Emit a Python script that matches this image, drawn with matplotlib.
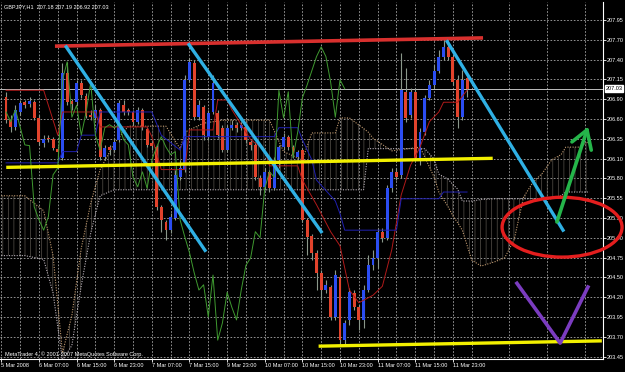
import matplotlib
matplotlib.use('Agg')
import matplotlib.pyplot as plt
import numpy as np
from matplotlib.patches import Ellipse

plt.rcParams['font.family'] = ['Liberation Sans', 'DejaVu Sans']
plt.rcParams['hatch.linewidth'] = 0.5

# ---------------- data ----------------
symbol_title = "GBPJPY,H1  207.18 207.19 206.92 207.03"
footer = "MetaTrader 4, \u00a9 2001-2007 MetaQuotes Software Corp."
current_price = 207.03

opens = [206.92, 206.61, 206.52, 206.72, 206.85, 206.83, 206.85, 206.64, 206.31, 206.37,
         206.36, 206.23, 206.11, 207.24, 206.87, 206.85, 207.11, 206.93, 206.68, 206.64,
         206.75, 206.12, 206.25, 206.21, 206.35, 206.81, 206.75, 206.72, 206.59, 206.75,
         206.49, 206.31, 206.25, 205.45, 205.25, 205.14, 205.30, 205.85, 205.95, 207.15,
         207.38, 206.65, 206.79, 206.39, 206.72, 206.71, 206.51, 206.21, 206.51, 206.55,
         206.51, 206.52, 206.32, 206.28, 205.84, 205.72, 205.92, 205.70, 206.08, 206.25,
         206.39, 206.25, 206.12, 206.21, 205.28, 205.06, 204.84, 204.57, 204.34, 204.38,
         203.98, 204.51, 203.67, 203.94, 204.30, 204.11, 203.94, 204.34, 204.67, 204.77,
         205.12, 205.04, 205.70, 205.92, 205.88, 206.99, 206.68, 206.99, 206.11, 206.45,
         206.91, 207.08, 207.27, 207.46, 207.59, 207.46, 207.15, 206.65, 207.18]
closes = [206.61, 206.52, 206.75, 206.84, 206.81, 206.87, 206.64, 206.32, 206.36, 206.36,
          206.24, 206.19, 207.24, 206.85, 206.83, 207.11, 206.95, 206.67, 206.65, 206.75,
          206.12, 206.24, 206.21, 206.32, 206.84, 206.72, 206.72, 206.59, 206.75, 206.52,
          206.28, 206.27, 205.45, 205.28, 205.14, 205.32, 205.88, 205.97, 207.15, 207.39,
          206.65, 206.81, 206.41, 206.71, 207.11, 206.41, 206.21, 206.51, 206.55, 206.51,
          206.55, 206.35, 206.28, 205.85, 205.72, 205.92, 205.70, 206.08, 206.25, 206.39,
          206.25, 206.15, 206.19, 205.28, 205.05, 204.84, 204.57, 204.34, 204.41, 203.98,
          204.54, 203.67, 203.90, 204.31, 204.11, 203.94, 204.34, 204.67, 204.77, 205.12,
          205.04, 205.70, 205.92, 205.85, 207.01, 206.64, 206.99, 206.11, 206.45, 206.91,
          207.08, 207.27, 207.46, 207.59, 207.46, 207.12, 206.65, 207.15, 207.03]
highs = [206.99, 206.68, 206.81, 206.88, 206.88, 206.92, 206.88, 206.68, 206.41, 206.41,
         206.39, 206.27, 207.38, 207.39, 206.89, 207.15, 207.15, 206.97, 206.75, 206.81,
         206.77, 206.28, 206.28, 206.37, 206.88, 206.88, 206.77, 206.75, 206.79, 206.77,
         206.52, 206.35, 206.28, 205.48, 205.28, 205.37, 205.95, 206.08, 207.21, 207.44,
         207.42, 206.88, 206.81, 206.75, 207.21, 206.75, 206.55, 206.55, 206.61, 206.59,
         206.59, 206.55, 206.35, 206.32, 205.88, 205.97, 205.95, 206.12, 206.28, 206.44,
         206.41, 206.28, 206.21, 206.24, 205.30, 205.09, 204.88, 204.61, 204.47, 204.41,
         204.61, 204.54, 203.94, 204.37, 204.34, 204.14, 204.41, 204.81, 204.88, 205.17,
         205.17, 205.74, 205.97, 205.97, 207.51, 207.31, 207.04, 207.04, 206.51, 206.95,
         207.15, 207.35, 207.55, 207.68, 207.68, 207.48, 207.21, 207.28, 207.19]
lows = [206.57, 206.45, 206.48, 206.68, 206.77, 206.79, 206.61, 206.28, 206.25, 206.32,
        206.21, 206.12, 206.08, 206.81, 206.75, 206.81, 206.91, 206.64, 206.61, 206.61,
        206.08, 206.08, 206.15, 206.19, 206.32, 206.68, 206.68, 206.55, 206.56, 206.48,
        206.25, 206.21, 205.41, 205.12, 205.01, 205.10, 205.28, 205.81, 205.92, 207.12,
        206.61, 206.61, 206.35, 206.35, 206.69, 206.37, 206.19, 206.19, 206.48, 206.45,
        206.48, 206.31, 206.21, 205.81, 205.61, 205.68, 205.65, 205.68, 205.97, 206.21,
        206.21, 206.11, 206.08, 205.25, 204.81, 204.74, 204.34, 204.21, 204.30, 203.94,
        203.94, 203.61, 203.61, 203.87, 204.07, 203.81, 203.83, 204.31, 204.61, 204.63,
        204.98, 205.01, 205.65, 205.81, 205.84, 206.59, 206.64, 206.08, 206.01, 206.41,
        206.88, 207.04, 207.24, 207.42, 207.42, 207.08, 206.51, 206.61, 206.92]

# Ichimoku lines (bar index, price)
tenkan_bars = [0, 8, 11, 12, 19, 20, 30, 31, 33, 38, 39, 44, 45, 47, 48, 52, 55, 56, 62, 63,
               66, 69, 71, 73, 75, 78, 80, 82, 84, 86, 88, 90, 92, 93, 96, 98]
tenkan_vals = [207.01, 207.01, 206.41, 206.72, 206.72, 206.52, 206.52, 206.39, 205.95, 205.95,
               206.48, 206.48, 206.88, 206.88, 206.75, 206.35, 206.21, 206.00, 206.00, 205.81,
               205.48, 205.12, 204.93, 204.34, 204.17, 204.27, 204.39, 204.88, 205.61, 206.01,
               206.25, 206.59, 206.72, 206.85, 206.85, 207.01]
kijun_bars = [0, 11, 12, 15, 16, 19, 20, 31, 33, 37, 38, 57, 58, 62, 63, 65, 66, 70, 71, 72,
              83, 84, 92, 93, 98]
kijun_vals = [206.04, 206.04, 206.19, 206.19, 206.41, 206.41, 206.72, 206.72, 206.41, 206.21,
              206.39, 206.39, 206.51, 206.51, 206.35, 206.08, 205.81, 205.53, 205.36, 205.14,
              205.14, 205.56, 205.56, 205.65, 205.65]
cloud_bars = [-1, 4, 8, 10, 12, 14, 16, 18, 20, 23, 26, 34, 37, 38, 42, 46, 56, 59, 63, 65,
              70, 71, 73, 76, 77, 78, 82, 88, 89, 91, 92, 94, 95, 96, 97, 99, 101, 104, 106,
              108, 110, 112, 114, 116, 118, 119, 122, 124]
span_a = [205.60, 205.60, 205.40, 204.80, 203.50, 204.00, 204.90, 205.50, 205.95, 206.30,
          206.53, 206.53, 206.23, 206.45, 206.57, 206.61, 206.61, 206.19, 206.08, 206.44,
          206.44, 206.64, 206.64, 206.50, 206.45, 206.37, 206.20, 206.25, 206.12, 205.85,
          205.65, 205.45, 205.33, 205.24, 205.14, 204.74, 204.66, 204.72, 204.77, 205.01,
          205.58, 205.78, 205.90, 206.08, 206.15, 206.25, 206.25, 206.33]
span_b = [204.80, 204.80, 204.75, 204.30, 203.40, 203.60, 204.40, 205.10, 205.60, 205.68,
          205.68, 205.68, 205.68, 205.68, 205.68, 205.68, 205.68, 205.68, 205.68, 205.68,
          205.68, 205.68, 205.68, 205.68, 206.23, 206.23, 206.23, 206.23, 206.23, 206.09,
          205.89, 205.82, 205.75, 205.69, 205.53, 205.53, 205.55, 205.56, 205.56, 205.56,
          205.56, 205.56, 205.56, 205.56, 205.60, 205.65, 205.65, 205.65]
chikou_shift = 26

# price axis labels (evenly spaced grid rows) and time labels
price_labels = ["207.95", "207.70", "207.40", "207.15", "206.90", "206.60", "206.35", "206.10",
                "205.80", "205.55", "205.30", "205.00", "204.75", "204.50", "204.20", "203.95",
                "203.70", "203.45"]
time_tick_bars = [-1, 7, 15, 23, 31, 39, 47, 55, 63, 71, 79, 87, 95]
time_labels = ["5 Mar 2008", "6 Mar 07:00", "6 Mar 15:00", "6 Mar 23:00", "7 Mar 07:00",
               "7 Mar 15:00", "9 Mar 23:00", "10 Mar 07:00", "10 Mar 15:00", "10 Mar 23:00",
               "11 Mar 07:00", "11 Mar 15:00", "11 Mar 23:00"]

# user-drawn objects: (bar, price) anchors
red_line = [(10.4, 207.60), (101.4, 207.71)]
blue_lines = [[(12.8, 207.59), (42.3, 204.87)],
              [(38.9, 207.62), (67.0, 205.12)],
              [(93.8, 207.66), (118.4, 205.14)]]
yellow_lines = [[(0.4, 205.98), (103.1, 206.10)],
                [(66.8, 203.59), (126.3, 203.66)]]
ellipse_center = (118.2, 205.18)
ellipse_size = (25.5, 0.80)
green_arrow = [(117.1, 205.25), (123.5, 206.48)]
green_barbs = [(120.3, 206.32), (124.4, 206.21)]
purple_v = [(108.6, 204.43), (117.8, 203.63), (123.7, 204.38)]

# ---------------- figure ----------------
W, H = 625, 372
fig = plt.figure(figsize=(W / 100, H / 100), dpi=100, facecolor='black')
ax = fig.add_axes([0 / W, 13 / H, 603 / W, 357 / H])
ax.set_facecolor('black')
ax.set_xlim(-1.28, 126.9)
ax.set_ylim(203.418, 208.19)

fs = 4.0
grid_kw = dict(color='#a9a9a9', linestyle=(0, (2, 2)), linewidth=0.6)

# grid / ticks
ypos = np.linspace(207.95, 203.45, len(price_labels))
ax.yaxis.tick_right()
ax.set_yticks(ypos)
ax.set_yticklabels(price_labels)
ax.set_xticks(time_tick_bars)
ax.set_xticklabels(time_labels, ha='left')
minor = list(range(3, 128, 8))
ax.set_xticks(minor, minor=True)
ax.grid(True, which='major', **grid_kw)
ax.grid(True, which='minor', axis='x', **grid_kw)
ax.set_axisbelow(True)
ax.tick_params(axis='both', which='both', colors='white', labelsize=fs, length=2,
               width=0.6, pad=0.8)
ax.tick_params(axis='x', which='minor', length=0)
for s in ['left', 'top']:
    ax.spines[s].set_visible(False)
for s in ['right', 'bottom']:
    ax.spines[s].set_color('white')
    ax.spines[s].set_linewidth(0.8)

bars = np.arange(len(closes))
o = np.array(opens); c = np.array(closes); h = np.array(highs); l = np.array(lows)

# Ichimoku cloud
ax.fill_between(cloud_bars, span_a, span_b, facecolor='none', edgecolor='#57524b',
                hatch='|||', linewidth=0, zorder=1)
ax.plot(cloud_bars, span_a, color='#c09a70', linestyle=(0, (1, 1.3)), lw=0.8, zorder=1.5)
ax.plot(cloud_bars, span_b, color='#b8b0b8', linestyle=(0, (1, 1.3)), lw=0.8, zorder=1.5)

# current price line
ax.axhline(current_price, color='#bdbdbd', lw=0.7, zorder=1.6)

# candles
ax.vlines(bars, l, h, color='#8a978a', lw=0.8, zorder=2)
up = c >= o
ax.bar(bars[up], (c - o)[up], bottom=o[up], width=0.62, color='#2b4df2', zorder=3)
ax.bar(bars[~up], (o - c)[~up], bottom=c[~up], width=0.62, color='#e2432c', zorder=3)

# Ichimoku lines
ax.plot(tenkan_bars, tenkan_vals, color='#b01a1a', lw=0.7, zorder=4)
ax.plot(kijun_bars, kijun_vals, color='#2020b0', lw=0.7, zorder=4)
ax.plot(bars[:-chikou_shift], c[chikou_shift:], color='#3f9a30', lw=0.7, zorder=4)

# drawn objects
(x0, y0), (x1, y1) = red_line
ax.plot([x0, x1], [y0, y1], color='#d8302e', lw=2.6, solid_capstyle='butt', zorder=6)
for (a, b) in blue_lines:
    ax.plot([a[0], b[0]], [a[1], b[1]], color='#2fb0e4', lw=2.4, zorder=6)
for (a, b) in yellow_lines:
    ax.plot([a[0], b[0]], [a[1], b[1]], color='#f2f000', lw=2.4, zorder=6)
ax.add_patch(Ellipse(ellipse_center, ellipse_size[0], ellipse_size[1], fill=False,
                     ec='#e41e1e', lw=2.4, clip_on=False, zorder=7))
ax.plot([green_arrow[0][0], green_arrow[1][0]], [green_arrow[0][1], green_arrow[1][1]],
        color='#25b54a', lw=2.6, solid_capstyle='round', zorder=7, clip_on=False)
for bx, by in green_barbs:
    ax.plot([bx, green_arrow[1][0]], [by, green_arrow[1][1]], color='#25b54a', lw=2.6,
            solid_capstyle='round', zorder=7, clip_on=False)
ax.plot([p[0] for p in purple_v], [p[1] for p in purple_v], color='#7b3cc0', lw=2.6,
        zorder=7, clip_on=False)

# current price box on axis
ax.text(1.004, current_price, f"{current_price:.2f}", transform=ax.get_yaxis_transform(),
        ha='left', va='center', fontsize=fs, color='black', zorder=10, clip_on=False,
        bbox=dict(boxstyle='square,pad=0.15', fc='white', ec='white'))

# texts
fig.text(4 / W, 1 - 7 / H, symbol_title, color='white', fontsize=fs, va='center', ha='left')
fig.text(5 / W, 1 - 354 / H, footer, color='white', fontsize=fs, va='center', ha='left')

fig.savefig('out.png', dpi=100, facecolor='black')
